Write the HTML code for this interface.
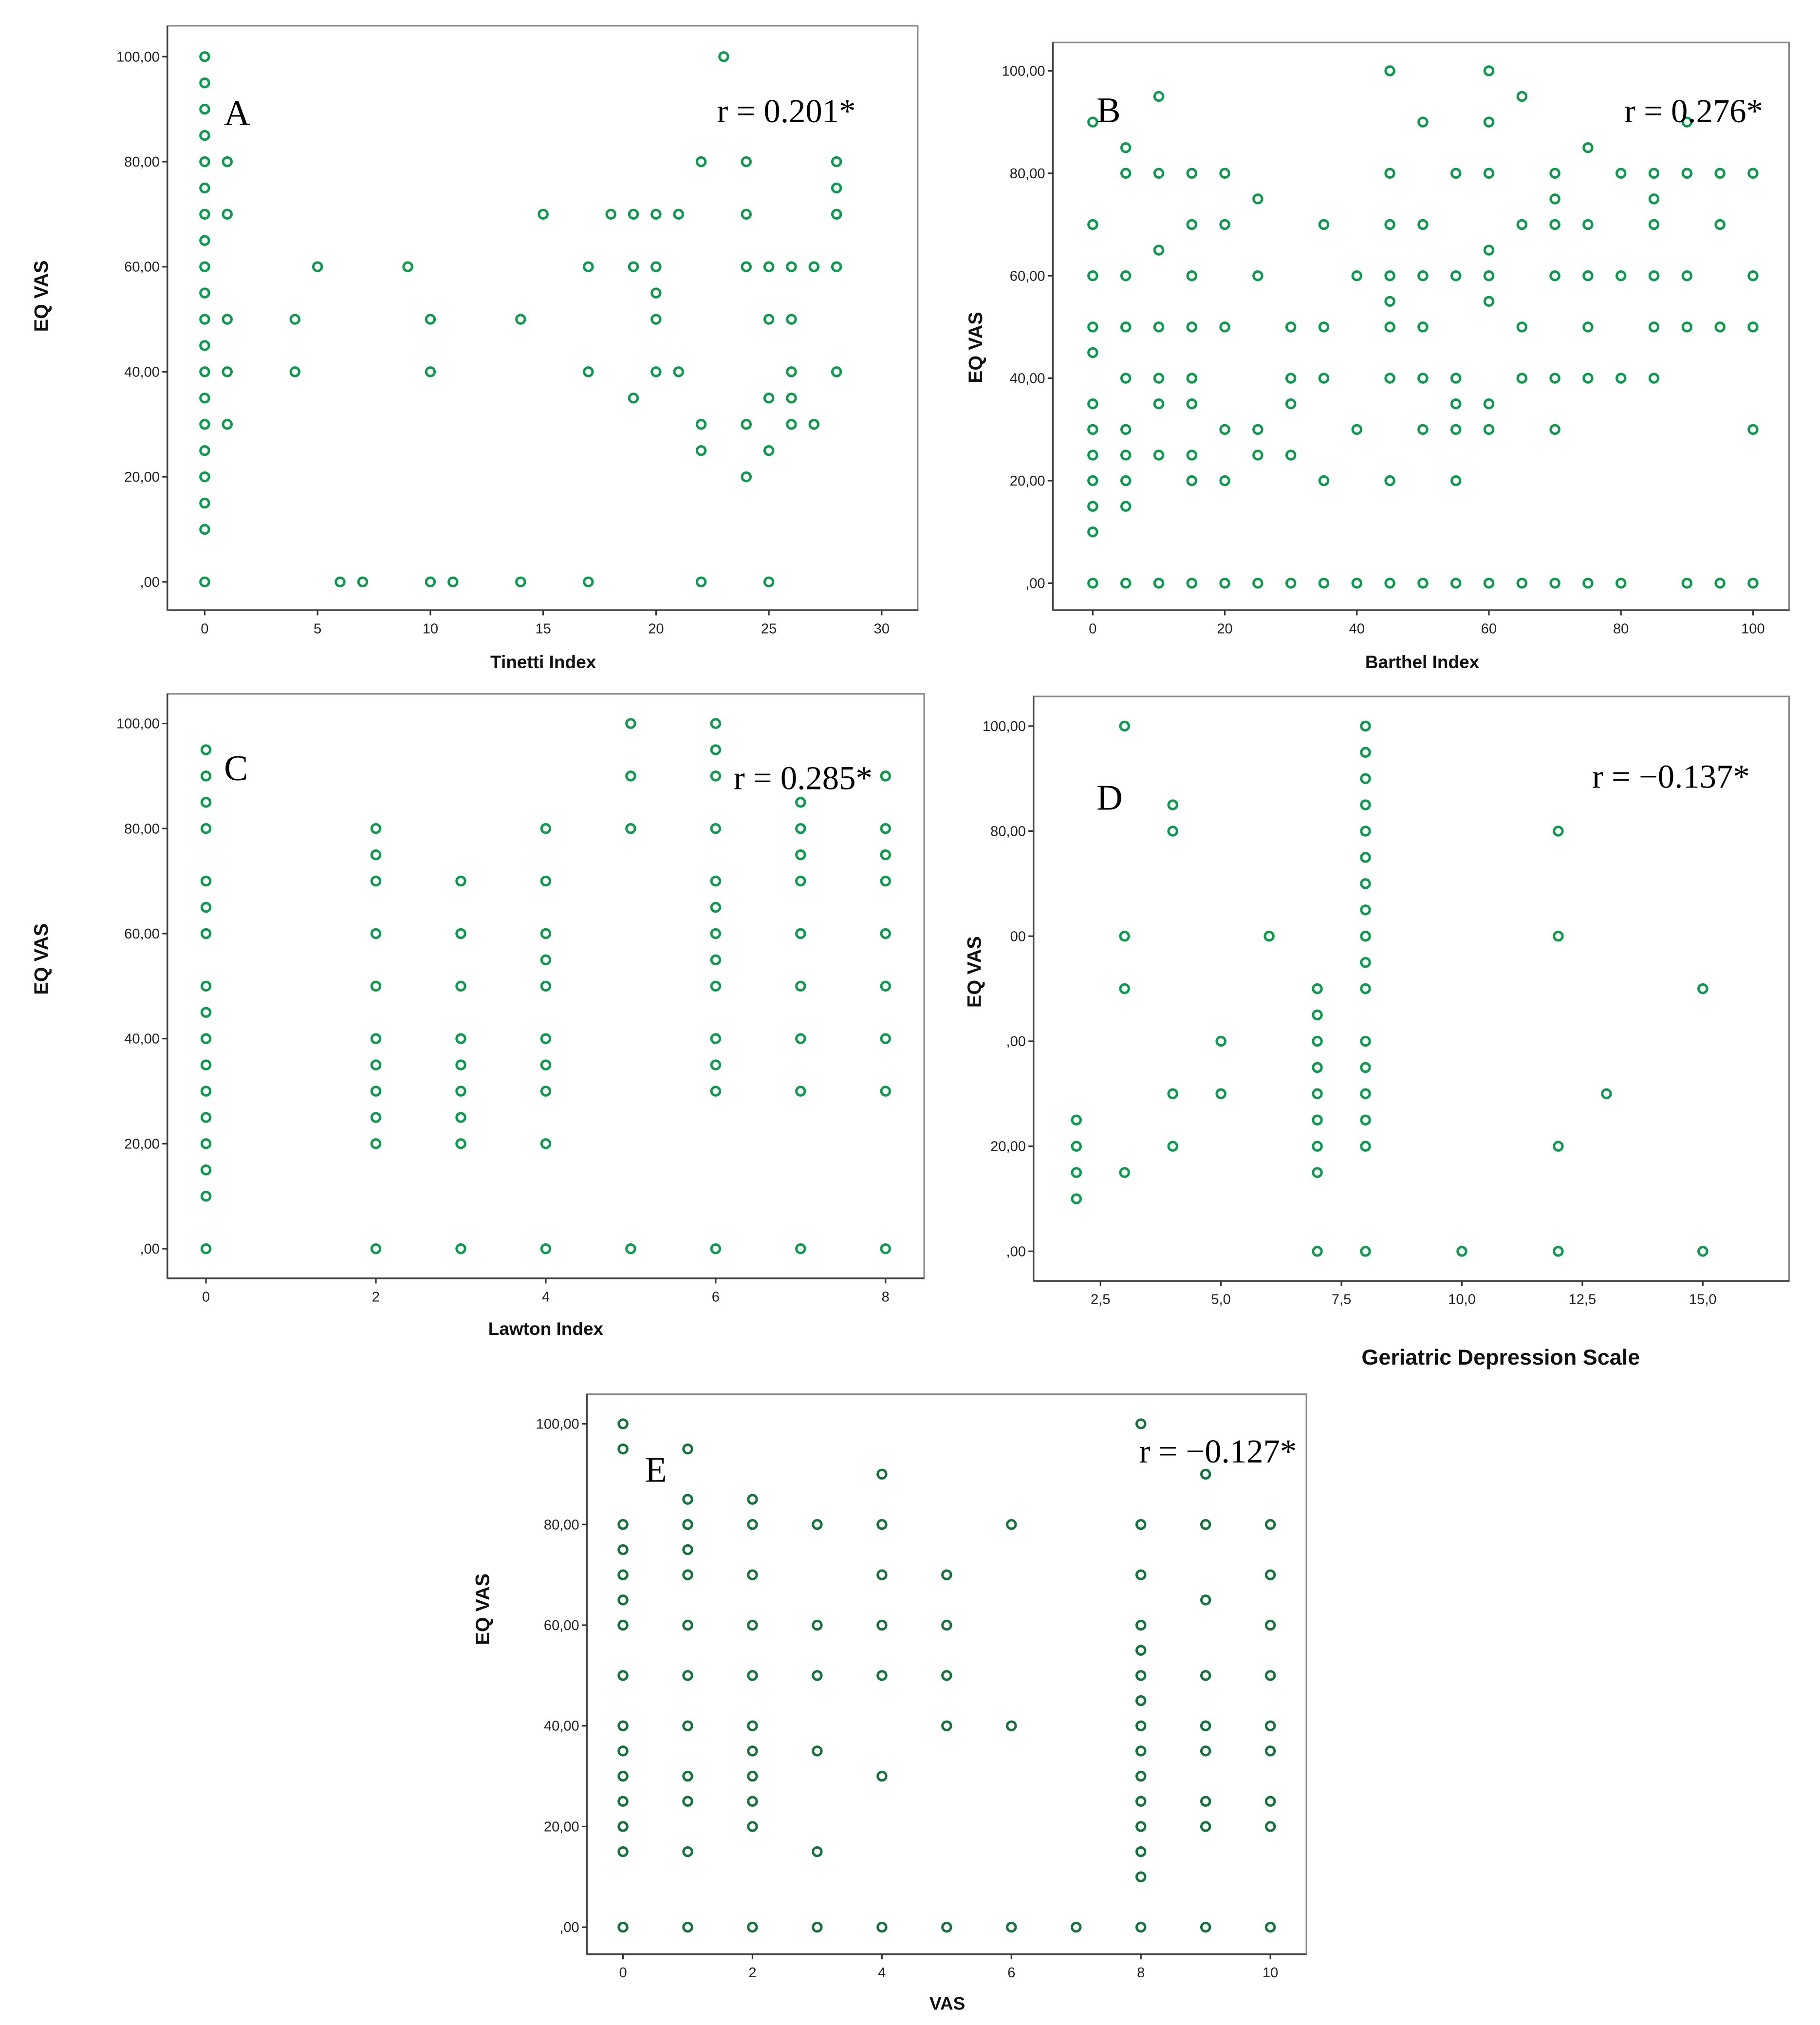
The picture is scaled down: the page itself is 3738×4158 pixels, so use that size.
<!DOCTYPE html>
<html><head><meta charset="utf-8"><style>html,body{margin:0;padding:0;background:#fff}svg{display:block}</style></head>
<body>
<svg id="fig" width="3738" height="4158" viewBox="0 0 1414 1573" xmlns="http://www.w3.org/2000/svg" font-family="Liberation Sans, sans-serif"></svg>
<script>
// Panel A (Tinetti)
const aX = [0,1,4,5,6,7,9,10,11,14,15,17,18,19,20,21,22,23,24,25,26,27,28];
const aY = [[100,95,90,85,80,75,70,65,60,55,50,45,40,35,30,25,20,15,10,0],[80,70,50,40,30],[50,40],[60],[0],[0],[60],[50,40,0],[0],[50,0],[70],[60,40,0],[70],[70,60,35],[70,60,55,50,40],[70,40],[80,30,25,0],[100],[80,70,60,30,20],[60,50,35,25,0],[60,50,40,35,30],[60,30],[80,75,70,60,40]];
// Panel B (Barthel)
const bX = [0,5,10,15,20,25,30,35,40,45,50,55,60,65,70,75,80,85,90,95,100];
const bY = [[90,70,60,50,45,35,30,25,20,15,10,0],[85,80,60,50,40,30,25,20,15,0],[95,80,65,50,40,35,25,0],[80,70,60,50,40,35,25,20,0],[80,70,50,30,20,0],[75,60,30,25,0],[50,40,35,25,0],[70,50,40,20,0],[60,30,0],[100,80,70,60,55,50,40,20,0],[90,70,60,50,40,30,0],[80,60,40,35,30,20,0],[100,90,80,65,60,55,35,30,0],[95,70,50,40,0],[80,75,70,60,40,30,0],[85,70,60,50,40,0],[80,60,40,0],[80,75,70,60,50,40],[90,80,60,50,0],[80,70,50,0],[80,60,50,30,0]];
// Panel C (Lawton)
const cX = [0,2,3,4,5,6,7,8];
const cY = [[95,90,85,80,70,65,60,50,45,40,35,30,25,20,15,10,0],[80,75,70,60,50,40,35,30,25,20,0],[70,60,50,40,35,30,25,20,0],[80,70,60,55,50,40,35,30,20,0],[100,90,80,0],[100,95,90,80,70,65,60,55,50,40,35,30,0],[85,80,75,70,60,50,40,30,0],[90,80,75,70,60,50,40,30,0]];
// Panel D (GDS)
const dX = [2,3,4,5,6,7,8,10,12,13,15];
const dY = [[25,20,15,10],[100,60,50,15],[85,80,30,20],[40,30],[60],[50,45,40,35,30,25,20,15,0],[100,95,90,85,80,75,70,65,60,55,50,40,35,30,25,20,0],[0],[80,60,20,0],[30],[50,0]];
// Panel E (VAS)
const eX = [0,1,2,3,4,5,6,7,8,9,10];
const eY = [[100,95,80,75,70,65,60,50,40,35,30,25,20,15,0],[95,85,80,75,70,60,50,40,30,25,15,0],[85,80,70,60,50,40,35,30,25,20,0],[80,60,50,35,15,0],[90,80,70,60,50,30,0],[70,60,50,40,0],[80,40,0],[0],[100,80,70,60,55,50,45,40,35,30,25,20,15,10,0],[90,80,65,50,40,35,25,20,0],[80,70,60,50,40,35,25,20,0]];
const yTicks = [0,20,40,60,80,100];
const yLabels = [",00","20,00","40,00","60,00","80,00","100,00"];
const dYLabels = [",00","20,00",",00","00","80,00","100,00"];
const aTicks=[0,5,10,15,20,25,30], bTicks=[0,20,40,60,80,100], cTicks=[0,2,4,6,8], dTicks=[2.5,5,7.5,10,12.5,15], eTicks=[0,2,4,6,8,10];
const fmtD = v => v.toFixed(1).replace('.',',');

const NS="http://www.w3.org/2000/svg", svg=document.getElementById('fig');
function mk(tag, attrs, parent, txt){const e=document.createElementNS(NS,tag);for(const k in attrs)e.setAttribute(k,attrs[k]);if(txt!==undefined)e.textContent=txt;(parent||svg).appendChild(e);return e;}

function panel(p){
  const g=mk('g',{});
  
  
  const sx=v=>p.x0+(v-p.xmin)/(p.xmax-p.xmin)*(p.x1-p.x0);
  const sy=v=>p.y0+(v)/100*(p.y100-p.y0);
  const fr=mk('rect',{x:p.L,y:p.T,width:p.R-p.L,height:p.B-p.T,fill:'none',stroke:'#888','stroke-width':1.2},g);
  
  
  mk('line',{x1:p.L,y1:p.T,x2:p.L,y2:p.B,stroke:'#444','stroke-width':1.3},g);
  mk('line',{x1:p.L,y1:p.B,x2:p.R,y2:p.B,stroke:'#444','stroke-width':1.3},g);
  yTicks.forEach((v,i)=>{
    const y=sy(v);
    mk('line',{x1:p.L-4,y1:y,x2:p.L,y2:y,stroke:'#333','stroke-width':1.2},g);
    const t=mk('text',{x:p.L-6,y:y+3.8,'font-size':11,'text-anchor':'end',fill:'#222'},g,(p.yl||yLabels)[i]);
    
    
  });
  p.ticks.forEach(v=>{
    const x=sx(v);
    mk('line',{x1:x,y1:p.B,x2:x,y2:p.B+4,stroke:'#333','stroke-width':1.2},g);
    const t=mk('text',{x:x,y:p.B+18,'font-size':11,'text-anchor':'middle',fill:'#222'},g,p.fmt?p.fmt(v):String(v));
    
    
  });
  p.xs.forEach((xv,i)=>{p.ys[i].forEach(yv=>{
    const c=mk('circle',{cx:sx(xv),cy:sy(yv),r:3.3,fill:'none',stroke:p.col,'stroke-width':1.9},g);
    
    
  });});
  const xt=mk('text',{x:p.xtX,y:p.xtY,'font-size':p.xtS||14,'font-weight':'bold','text-anchor':'middle',fill:'#111'},g,p.xt);
  
  
  const yt=mk('text',{x:0,y:0,'font-size':15,'font-weight':'bold','text-anchor':'middle',fill:'#111',transform:`translate(${p.ytX},${p.ytY}) rotate(-90)`},g,'EQ VAS');
  
  
  const lt=mk('text',{x:p.lx,y:p.ly,'font-size':28,'font-family':'Liberation Serif, serif',fill:'#000'},g,p.id);
  
  
  const rt=mk('text',{x:p.rx,y:p.ry,'font-size':26,'font-family':'Liberation Serif, serif',fill:'#000'},g,p.r);
  
  
}
const G='#0e9a4e';
panel({id:'A',L:130,R:713,T:20,B:474,x0:159,x1:685,xmin:0,xmax:30,y0:452,y100:44,ticks:aTicks,xs:aX,ys:aY,col:G,xt:'Tinetti Index',xtX:422,xtY:519,ytX:37,ytY:230,lx:174,ly:97,rx:557,ry:95,r:'r = 0.201*'});
panel({id:'B',L:818,R:1390,T:33,B:474,x0:849,x1:1362,xmin:0,xmax:100,y0:453,y100:55,ticks:bTicks,xs:bX,ys:bY,col:G,xt:'Barthel Index',xtX:1105,xtY:519,ytX:763,ytY:270,lx:852,ly:95,rx:1262,ry:95,r:'r = 0.276*'});
panel({id:'C',L:130,R:718,T:539,B:993,x0:160,x1:688,xmin:0,xmax:8,y0:970,y100:562,ticks:cTicks,xs:cX,ys:cY,col:G,xt:'Lawton Index',xtX:424,xtY:1037,ytX:37,ytY:745,lx:174,ly:606,rx:570,ry:613,r:'r = 0.285*'});
panel({id:'D',L:803,R:1390,T:541,B:995,x0:855,x1:1323,xmin:2.5,xmax:15,y0:972,y100:564,ticks:dTicks,fmt:fmtD,yl:dYLabels,xs:dX,ys:dY,col:G,xt:'Geriatric Depression Scale',xtX:1166,xtY:1060,xtS:17,ytX:762,ytY:755,lx:852,ly:629,rx:1237,ry:612,r:'r = \u22120.137*'});
panel({id:'E',L:456,R:1015,T:1083,B:1518,x0:484,x1:987,xmin:0,xmax:10,y0:1497,y100:1106,ticks:eTicks,xs:eX,ys:eY,col:'#17733d',xt:'VAS',xtX:736,xtY:1561,ytX:380,ytY:1250,lx:501,ly:1151,rx:885,ry:1136,r:'r = \u22120.127*'});
</script>
</body></html>
